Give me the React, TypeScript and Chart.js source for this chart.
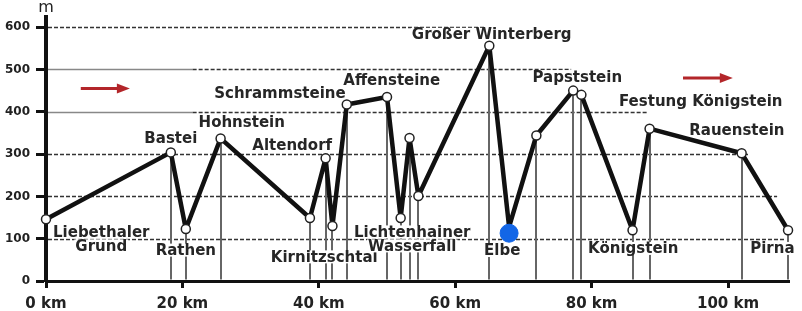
import React, { useEffect, useRef } from 'react';
import { Chart, registerables } from 'chart.js';

Chart.register(...registerables);

// ---- data ----
const placeKm = [0, 18.3, 20.5, 25.6, 38.7, 41.0, 42.0, 44.1, 50.0, 52.0, 53.3, 54.6, 65.0, 67.9, 71.9, 77.3, 78.5, 86.0, 88.5, 102.0, 108.8];
const placeElevation = [146, 304, 123, 337, 149, 290, 130, 417, 435, 149, 338, 201, 556, 128, 344, 450, 440, 120, 360, 302, 120];
const elbeIndex = 13;
const elbeMarkerKm = [67.9];
const elbeMarkerElevation = [113];

const xTickValues = [0, 20, 40, 60, 80, 100];
const yTickValues = [0, 100, 200, 300, 400, 500, 600];

// place names and where their text sits (km, m)
const labelTexts = ['Liebethaler', 'Grund', 'Bastei', 'Rathen', 'Hohnstein', 'Altendorf', 'Kirnitzschtal', 'Schrammsteine', 'Affensteine', 'Lichtenhainer', 'Wasserfall', 'Großer Winterberg', 'Elbe', 'Papststein', 'Festung Königstein', 'Königstein', 'Rauenstein', 'Pirna'];
const labelKm = [8.1, 8.1, 18.3, 20.5, 28.7, 36.1, 40.8, 34.3, 50.7, 53.7, 53.7, 65.35, 66.9, 77.9, 96.0, 86.1, 101.3, 106.5];
const labelElevation = [116, 83, 338, 73, 376, 321, 57, 443, 475, 116, 83, 583, 72, 483, 426, 77, 357, 77];

// horizontal reference lines: level, from km, to km, dashed
const gridLevel = [600, 500, 500, 400, 400, 300, 200, 100];
const gridFromKm = [0, 0, 21.5, 0, 21.5, 0, 0, 0];
const gridToKm = [64.5, 21.5, 77, 21.5, 88.2, 103.2, 107.2, 108.5];
const gridDashed = [true, false, true, false, true, true, true, true];

// direction arrows
const arrowFromKm = [5.1, 93.4];
const arrowToKm = [12.3, 100.7];
const arrowElevation = [455, 480];

const FONT = '"DejaVu Sans", "Liberation Sans", Arial, sans-serif';

const decorPlugin = {
  id: 'profileDecor',
  beforeDatasetsDraw(chart: any) {
    const { ctx, chartArea } = chart;
    const x = chart.scales.x;
    const y = chart.scales.y;
    ctx.save();
    // reference lines
    for (let i = 0; i < gridLevel.length; i++) {
      const py = Math.round(y.getPixelForValue(gridLevel[i])) + 0.5;
      const x1 = Math.max(x.getPixelForValue(gridFromKm[i]), chartArea.left + 2);
      const x2 = x.getPixelForValue(gridToKm[i]);
      ctx.beginPath();
      if (gridDashed[i]) {
        ctx.setLineDash([4, 2]);
        ctx.strokeStyle = '#333';
        ctx.lineWidth = 1.4;
      } else {
        ctx.setLineDash([]);
        ctx.strokeStyle = '#888';
        ctx.lineWidth = 1.5;
      }
      ctx.moveTo(x1, py);
      ctx.lineTo(x2, py);
      ctx.stroke();
    }
    ctx.setLineDash([]);
    // drop lines
    ctx.strokeStyle = '#666';
    ctx.lineWidth = 2;
    for (let i = 1; i < placeKm.length; i++) {
      if (i === elbeIndex) continue;
      const px = Math.round(x.getPixelForValue(placeKm[i]));
      const py = y.getPixelForValue(placeElevation[i]);
      ctx.beginPath();
      ctx.moveTo(px, py);
      ctx.lineTo(px, y.getPixelForValue(0) - 1.5);
      ctx.stroke();
    }
    // labels
    ctx.font = `bold 15px ${FONT}`;
    ctx.textAlign = 'center';
    ctx.textBaseline = 'middle';
    for (let i = 0; i < labelTexts.length; i++) {
      const px = x.getPixelForValue(labelKm[i]);
      const py = y.getPixelForValue(labelElevation[i]);
      const w = ctx.measureText(labelTexts[i]).width;
      ctx.fillStyle = '#fff';
      ctx.fillRect(px - w / 2 - 1, py - 6.5, w + 2, 13);
      ctx.fillStyle = '#262626';
      ctx.fillText(labelTexts[i], px, py + 1);
    }
    // arrows
    ctx.strokeStyle = '#b3262a';
    ctx.fillStyle = '#b3262a';
    ctx.lineWidth = 3;
    for (let i = 0; i < arrowFromKm.length; i++) {
      const x1 = x.getPixelForValue(arrowFromKm[i]);
      const x2 = x.getPixelForValue(arrowToKm[i]);
      const py = y.getPixelForValue(arrowElevation[i]);
      ctx.beginPath();
      ctx.moveTo(x1, py);
      ctx.lineTo(x2 - 10, py);
      ctx.stroke();
      ctx.beginPath();
      ctx.moveTo(x2, py);
      ctx.lineTo(x2 - 13, py - 5);
      ctx.lineTo(x2 - 13, py + 5);
      ctx.closePath();
      ctx.fill();
    }
    ctx.restore();
  },
  afterDraw(chart: any) {
    const { ctx, chartArea } = chart;
    ctx.save();
    ctx.font = `16px ${FONT}`;
    ctx.fillStyle = '#222';
    ctx.textAlign = 'center';
    ctx.textBaseline = 'middle';
    ctx.fillText('m', chartArea.left, 8);
    ctx.restore();
  },
};

export default function App() {
  const ref = useRef<HTMLCanvasElement>(null);
  useEffect(() => {
    const profile = placeKm.map((k, i) => ({ x: k, y: placeElevation[i] }));
    const radii = placeKm.map((_, i) => (i === elbeIndex ? 0 : 4.5));
    const elbe = elbeMarkerKm.map((k, i) => ({ x: k, y: elbeMarkerElevation[i] }));
    const chart = new Chart(ref.current as HTMLCanvasElement, {
      type: 'line',
      data: {
        datasets: [
          {
            type: 'scatter',
            data: elbe,
            pointRadius: 9,
            pointBackgroundColor: '#1366e6',
            pointBorderColor: '#1366e6',
            order: 0,
            clip: false,
          } as any,
          {
            data: profile,
            borderColor: '#111',
            borderWidth: 4.5,
            borderJoinStyle: 'round',
            tension: 0,
            pointRadius: radii,
            pointBackgroundColor: '#fff',
            pointBorderColor: '#222',
            pointBorderWidth: 1.5,
            order: 1,
            clip: false,
          } as any,
        ],
      },
      options: {
        responsive: false,
        animation: false,
        layout: { padding: { top: 17, right: 12.6, left: 0, bottom: 0 } },
        plugins: { legend: { display: false }, tooltip: { enabled: false } },
        scales: {
          x: {
            type: 'linear',
            min: 0,
            max: 109,
            afterBuildTicks: (s: any) => {
              s.ticks = xTickValues.map((v) => ({ value: v }));
            },
            afterFit: (s: any) => {
              s.height = 30;
            },
            border: { display: true, color: '#111', width: 3 },
            grid: { display: true, drawOnChartArea: false, drawTicks: true, tickLength: 7, tickWidth: 3, tickColor: '#111' },
            ticks: {
              padding: 7,
              color: '#222',
              maxRotation: 0,
              autoSkip: false,
              font: { family: FONT, size: 15, weight: 'bold' },
              callback: (v: any) => `${v} km`,
            },
          },
          y: {
            type: 'linear',
            min: 0,
            max: 624,
            afterBuildTicks: (s: any) => {
              s.ticks = yTickValues.map((v) => ({ value: v }));
            },
            afterFit: (s: any) => {
              s.width = 46;
            },
            border: { display: true, color: '#111', width: 4 },
            grid: { display: true, drawOnChartArea: false, drawTicks: true, tickLength: 10, tickWidth: 3, tickColor: '#111' },
            ticks: {
              padding: 6,
              color: '#222',
              font: { family: FONT, size: 12, weight: 'bold' },
            },
          },
        },
      },
      plugins: [decorPlugin],
    });
    return () => chart.destroy();
  }, []);
  return (
    <div style={{ position: 'fixed', left: 0, top: 0, width: 802, height: 311, background: '#fff' }}>
      <canvas ref={ref} width={802} height={311} style={{ display: 'block' }} />
    </div>
  );
}
